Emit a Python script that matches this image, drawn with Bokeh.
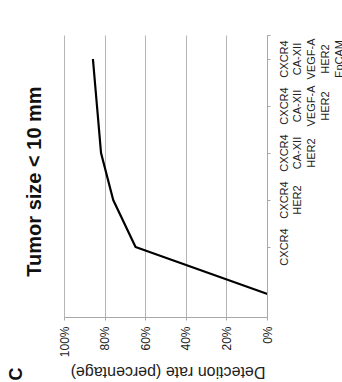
import math
from bokeh.plotting import figure
from bokeh.models import (Range1d, LinearAxis, FixedTicker, PrintfTickFormatter, Label, Grid)
from bokeh.core.properties import value
from bokeh.embed import file_html
from bokeh.resources import INLINE

# ---- data ----
categories = ["", "CXCR4", "CXCR4\nHER2", "CXCR4\nCA-XII\nHER2",
              "CXCR4\nCA-XII\nVEGF-A\nHER2", "CXCR4\nCA-XII\nVEGF-A\nHER2\nEpCAM"]
detection_rate = [0, 65, 76, 82, 84, 86]
rate_ticks = [0, 20, 40, 60, 80, 100]
title_text = "Tumor size < 10 mm"
value_axis_title = "Detection rate (percentage)"
panel_letter = "C"

FONT = "Liberation Sans"
positions = list(range(len(categories)))
n = len(categories)

# ---- layout (pixels inside the figure) ----
W, H = 342, 382
PL, PR, PT, PB = 64, 267, 35, 317          # plot area: 100% .. 0%, top .. bottom
r_lo, r_hi = min(rate_ticks), max(rate_ticks)
c_lo, c_hi = -0.5, n - 0.5
px_x = (PR - PL) / (r_hi - r_lo)
px_y = (PB - PT) / (c_hi - c_lo)
x_range = Range1d(r_hi + PL / px_x, r_lo - (W - PR) / px_x)
y_range = Range1d(c_lo - (H - PB) / px_y, c_hi + PT / px_y)

p = figure(width=W, height=H, output_backend="svg", toolbar_location=None,
           x_range=x_range, y_range=y_range, x_axis_type=None, y_axis_type=None,
           min_border=0, min_border_left=0, min_border_right=0,
           min_border_top=0, min_border_bottom=0)
p.outline_line_color = None
p.background_fill_color = "white"
p.border_fill_color = "white"

# value axis (rotated to the bottom)
xa = LinearAxis(fixed_location=c_lo, bounds=(r_lo, r_hi),
                ticker=FixedTicker(ticks=rate_ticks),
                formatter=PrintfTickFormatter(format="%d%%"))
xa.major_label_orientation = math.pi / 2
xa.major_label_text_font = FONT
xa.major_label_text_font_size = "12px"
xa.major_label_text_color = "#222222"
xa.major_label_standoff = 6
xa.major_tick_out = 3
xa.major_tick_in = 0
xa.minor_tick_out = 0
xa.minor_tick_in = 0
xa.axis_line_color = "#a8a8a8"
xa.major_tick_line_color = "#a8a8a8"
p.add_layout(xa, "below")

# category axis (rotated to the right): line and tick marks
cat_ticks = positions[1:] + [c_hi]
ra = LinearAxis(fixed_location=r_lo, bounds=(c_lo, c_hi), ticker=FixedTicker(ticks=cat_ticks))
ra.major_label_overrides = {t: "" for t in cat_ticks}
ra.major_label_standoff = 0
ra.major_tick_out = 3
ra.major_tick_in = 0
ra.minor_tick_out = 0
ra.minor_tick_in = 0
ra.axis_line_color = "#a8a8a8"
ra.major_tick_line_color = "#a8a8a8"
p.add_layout(ra, "right")

# vertical grid lines at the rate ticks
gkw = dict(dimension=0, ticker=FixedTicker(ticks=rate_ticks), bounds=(r_lo - 1, r_hi + 1),
           grid_line_color="#b5b5b5", grid_line_width=1)
if "cross_bounds" in Grid.properties():
    gkw["cross_bounds"] = (c_lo, c_hi)
    p.add_layout(Grid(**gkw), "center")
else:
    p.segment(x0=rate_ticks, y0=[c_lo] * len(rate_ticks), x1=rate_ticks,
              y1=[c_hi] * len(rate_ticks), line_color="#b5b5b5", line_width=1, level="underlay")

# category labels
p.text(x=[r_lo] * n, y=positions, text=categories, x_offset=10, angle=math.pi / 2,
       text_align="center", text_baseline="top", text_font=value(FONT),
       text_font_size="11px", text_color="#222222", text_line_height=1.15)

# the line
p.line(detection_rate, positions, line_color="black", line_width=2.2)

# title (vertical)
p.add_layout(Label(x=33.5, y=H - 181, x_units="screen", y_units="screen", text=title_text,
                   angle=math.pi / 2, text_align="center", text_baseline="middle",
                   text_font=FONT, text_font_size="20px", text_font_style="bold",
                   text_color="#111111"))
# value axis title (upside down)
p.add_layout(Label(x=167.5, y=H - 372, x_units="screen", y_units="screen",
                   text=value_axis_title, angle=math.pi, text_align="center",
                   text_baseline="middle", text_font=FONT, text_font_size="16px",
                   text_color="#222222"))
# panel letter
p.add_layout(Label(x=15, y=H - 373.5, x_units="screen", y_units="screen", text=panel_letter,
                   angle=math.pi / 2, text_align="center", text_baseline="middle",
                   text_font=FONT, text_font_size="18px", text_font_style="bold",
                   text_color="#111111"))

open("out.html", "w").write(file_html(p, INLINE))
